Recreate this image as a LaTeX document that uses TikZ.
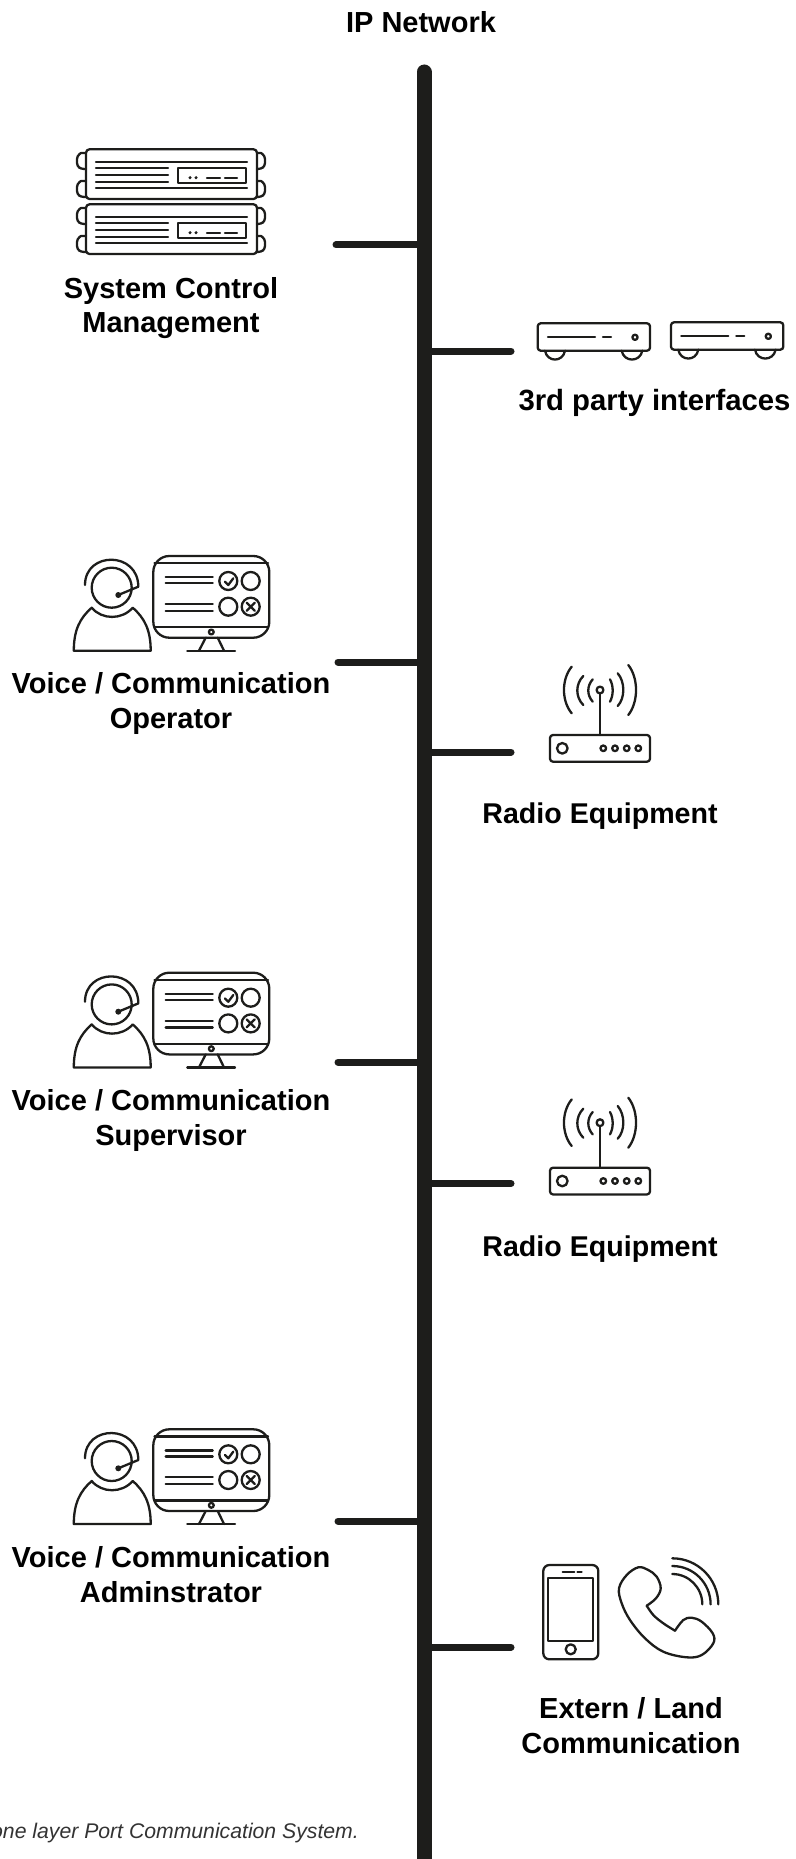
\documentclass[tikz,border=0pt]{standalone}
\usepackage{fontspec}
\setmainfont{Liberation Sans}
\definecolor{ink}{HTML}{1D1D1B}
\definecolor{foot}{HTML}{333333}
\tikzset{
  x=1pt,y=-1pt,
  bus/.style={draw=ink,line width=15pt,line cap=round},
  stub/.style={draw=ink,line width=7pt,line cap=round},
  ico/.style={draw=ink,line width=2.3pt,line cap=round,line join=round},
  thin ico/.style={draw=ink,line width=2.1pt,line cap=round,line join=round},
  lab/.style={inner sep=0pt,text=black,font=\fontsize{29}{35}\selectfont\bfseries,align=center,anchor=base},
  labradio/.style={lab,font=\fontsize{28.6}{35}\selectfont\bfseries},
  labwide/.style={lab,font=\fontsize{29.3}{35}\selectfont\bfseries},
  foottext/.style={inner sep=0pt,text=foot,font=\fontsize{21.2}{26}\selectfont\itshape,anchor=base east},
  rackunit/.pic={
    \draw[ico] (86,149.3) [rounded corners=3.5pt] rectangle (257,199);
    \draw[ico] (86,153) -- (81,153) [rounded corners=3pt] -- (77,156) -- (77,166) -- (81,169) -- (86,169);
    \draw[ico] (86,181) -- (81,181) [rounded corners=3pt] -- (77,184) -- (77,194) -- (81,197) -- (86,197);
    \draw[ico] (257,153) -- (261,153) [rounded corners=3pt] -- (265,156) -- (265,166) -- (261,169) -- (257,169);
    \draw[ico] (257,181) -- (261,181) [rounded corners=3pt] -- (265,184) -- (265,194) -- (261,197) -- (257,197);
    \draw[ico] (96,161.7) -- (247,161.7) (96,188.3) -- (247,188.3);
    \draw[ico] (96,168.3) -- (168,168.3) (96,175) -- (168,175) (96,181.7) -- (168,181.7);
    \draw[ico] (178,167.7) rectangle (246,182.7);
    \fill[ink] (190,177.7) circle[radius=1.7pt] (196,177.7) circle[radius=1.7pt];
    \draw[ico] (207,177.7) -- (220,177.7) (225,177.7) -- (237,177.7);
  },
  boxunit/.pic={
    \draw[ico] (537.7,323.3) [rounded corners=3pt] rectangle (650,350.7);
    \draw[ico] (545,350.7) .. controls (547,362.5) and (563,362.5) .. (565,350.7);
    \draw[ico] (621.7,350.7) .. controls (623.7,362.5) and (640.3,362.5) .. (642.3,350.7);
    \draw[ico] (548,337.3) -- (595,337.3) (603,337.3) -- (611,337.3);
    \draw[ico] (635,337.3) circle[radius=2.6pt];
  },
  voiceicon/.pic={
    \draw[ico] (111.7,587.7) circle[radius=20pt];
    \draw[ico] (85,585) .. controls (85,551) and (138.3,551) .. (138.3,586.7) -- (118.3,595);
    \fill[ink] (118.3,595) circle[radius=3pt];
    \draw[ico] (91.7,607.7) .. controls (80,618) and (73.8,630) .. (73.8,650.7) -- (150.7,650.7) .. controls (150.7,630) and (144.5,618) .. (132.7,607.7) .. controls (122,620) and (102,620) .. cycle;
    \draw[ico] (153.3,556) [rounded corners=16pt] rectangle (269.3,637.7);
    \draw[ico] (154.5,563.3) -- (268,563.3) (154.5,627.3) -- (268,627.3);
    \draw[ico] (165.7,577.3) -- (212.7,577.3) (165.7,583.3) -- (212.7,583.3);
    \draw[ico] (165.7,604) -- (212.7,604) (165.7,610.7) -- (212.7,610.7);
    \draw[ico] (228.3,581) circle[radius=9pt] (250.7,581) circle[radius=9pt];
    \draw[ico] (228.3,606.7) circle[radius=9pt] (250.7,606.7) circle[radius=9pt];
    \draw[ico] (225,581.7) -- (228.3,585) -- (233.3,578.3);
    \draw[ico] (246.7,602.7) -- (254.7,610.7) (254.7,602.7) -- (246.7,610.7);
    \draw[ico] (211.3,632) circle[radius=2.4pt];
    \draw[ico] (205.7,637.7) -- (199,650.7) (217.7,637.7) -- (224,650.7);
    \draw[ico] (187.3,650.7) -- (235,650.7);
  },
  radioicon/.pic={
    \draw[ico] (550,735) [rounded corners=3pt] rectangle (650,761.7);
    \draw[ico] (562.3,748.3) circle[radius=5.3pt];
    \draw[ico] (603.3,748.3) circle[radius=2.8pt] (615,748.3) circle[radius=2.8pt] (626.7,748.3) circle[radius=2.8pt] (638.3,748.3) circle[radius=2.8pt];
    \draw[ico] (600,690) circle[radius=3.4pt];
    \draw[ico] (600,693.5) -- (600,735);
    \draw[ico] (592.7,679.3) .. controls (586.8,686) and (586.8,695) .. (592.7,701.7);
    \draw[ico] (583.3,676) .. controls (575.3,684) and (575.3,697) .. (583.3,705);
    \draw[ico] (571.7,666.7) .. controls (561.4,679) and (561.4,701) .. (571.7,713.3);
    \draw[ico] (610,679.3) .. controls (613.6,686) and (613.6,695) .. (610,701.7);
    \draw[ico] (617.7,673.3) .. controls (625.2,682) and (625.2,698) .. (617.7,706);
    \draw[ico] (628.3,665) .. controls (638.6,678) and (638.6,702) .. (628.3,715);
  },
  phoneicon/.pic={
    \draw[ico] (543.3,1565) [rounded corners=6pt] rectangle (598.3,1659.3);
    \draw[thin ico] (548.3,1577.7) rectangle (593.3,1641);
    \draw[thin ico] (562.7,1572) -- (574.3,1572) (577.3,1572) -- (581.7,1572);
    \draw[ico] (570.7,1649.3) circle[radius=5pt];
    \draw[ico] plot[smooth,tension=.6] coordinates {(646.7,1605.7) (656,1598.3) (660.7,1588.3) (656.7,1576.7) (648.3,1570) (638.3,1567.3) (626.7,1575) (619,1588.3) (621.7,1603.3) (630,1620) (645,1638.3) (663.3,1651.7) (686.7,1657.3) (701.7,1655) (713.3,1643.3) (712.7,1633.3) (701.7,1621.7) (691.7,1617.7) (683.3,1620) (675,1630.7)};
    \draw[ico] plot[smooth,tension=.6] coordinates {(675,1630.7) (663.3,1623.3) (653.3,1615) (646.7,1605.7)};
    \draw[ico] (672.3,1574) .. controls (688.9,1574) and (702.3,1587.7) .. (702.3,1604.3);
    \draw[ico] (672.3,1566) .. controls (693.5,1566) and (710.6,1583.1) .. (710.6,1604.3);
    \draw[ico] (672.3,1558.3) .. controls (697.7,1558.3) and (718.3,1578.9) .. (718.3,1604.3);
  },
}
\begin{document}
\begin{tikzpicture}
\useasboundingbox (0,0) rectangle (795,1859);
\coordinate (bustop) at (424,72);
\coordinate (busbot) at (424,1880);
\draw[bus] (bustop) -- (busbot);
\node[lab] (ipnet) at (421,33) {IP Network};

\coordinate (s1) at (336,245);
\coordinate (s2) at (511,351);
\coordinate (s3) at (338,662);
\coordinate (s4) at (511,752);
\coordinate (s5) at (338,1062);
\coordinate (s6) at (511,1183.5);
\coordinate (s7) at (338,1521);
\coordinate (s8) at (511,1647);
\foreach \s in {s1,s2,s3,s4,s5,s6,s7,s8}
  \draw[stub] (\s) -- (\s -| bustop);

\pic (rackA) at (0,0) {rackunit};
\pic (rackB) at (0,55) {rackunit};
\node[lab] (sys) at (171,333) {System Control\\Management};

\pic (boxA) at (0,0) {boxunit};
\pic (boxB) at (133.3,-1) {boxunit};
\node[labwide] (third) at (654.5,410) {3rd party interfaces};

\pic (voiceA) at (0,0) {voiceicon};
\node[lab] (oper) at (171,728) {Voice / Communication\\Operator};
\pic (radioA) at (0,0) {radioicon};
\node[labradio] (radA) at (600,823) {Radio Equipment};

\pic (voiceB) at (0,416.7) {voiceicon};
\node[lab] (superv) at (171,1145) {Voice / Communication\\Supervisor};
\pic (radioB) at (0,432.7) {radioicon};
\node[labradio] (radB) at (600,1256) {Radio Equipment};

\pic (voiceC) at (0,873.3) {voiceicon};
\node[lab] (admin) at (171,1602) {Voice / Communication\\Adminstrator};
\pic (phone) at (0,0) {phoneicon};
\node[lab] (ext) at (631,1753) {Extern / Land\\Communication};

\node[foottext] (foot) at (359,1838) {one layer Port Communication System.};
\end{tikzpicture}
\end{document}
